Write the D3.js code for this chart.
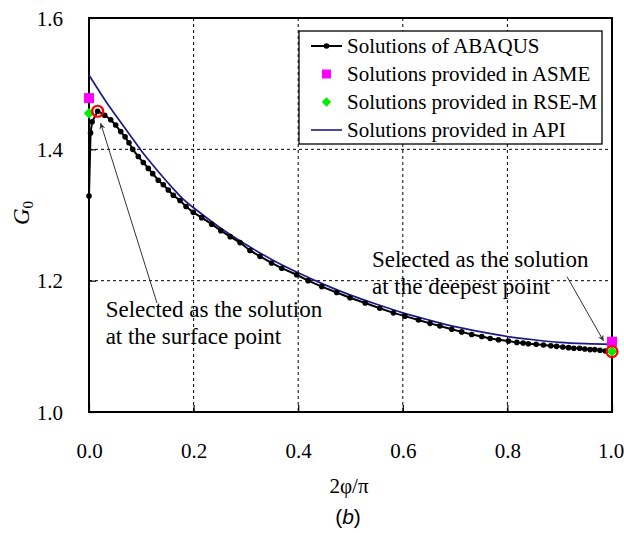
<!DOCTYPE html>
<html><head><meta charset="utf-8">
<script src="https://cdn.jsdelivr.net/npm/d3@7"></script>
<style>body{margin:0;background:#fff}svg{display:block}</style>
</head><body>
<svg id="c" width="624" height="533"></svg>
<script>
// ---- data ----
const abaqusX = [0.000,0.003,0.006,0.0166,0.030,0.0415,0.051,0.0606,0.069,0.0765,0.0836,0.0943,0.1038,0.1134,0.1218,0.1325,0.1421,0.1516,0.1612,0.174,0.1855,0.1994,0.2155,0.2346,0.252,0.270,0.2887,0.3078,0.327,0.349,0.3685,0.397,0.419,0.445,0.4736,0.499,0.528,0.556,0.582,0.604,0.630,0.652,0.671,0.6935,0.7126,0.7317,0.751,0.767,0.783,0.802,0.818,0.830,0.840,0.855,0.869,0.883,0.894,0.906,0.917,0.927,0.938,0.948,0.958,0.967,0.977,0.987,1.000];
const abaqusY = [1.329,1.425,1.442,1.458,1.452,1.445,1.437,1.427,1.419,1.410,1.400,1.389,1.380,1.371,1.363,1.353,1.346,1.338,1.330,1.322,1.313,1.304,1.296,1.286,1.276,1.267,1.258,1.246,1.237,1.227,1.219,1.209,1.200,1.191,1.182,1.174,1.166,1.158,1.151,1.146,1.140,1.135,1.131,1.126,1.122,1.118,1.115,1.112,1.110,1.108,1.106,1.105,1.104,1.103,1.102,1.101,1.100,1.099,1.098,1.097,1.097,1.096,1.095,1.095,1.094,1.093,1.092];
const apiX = [0,0.02,0.04,0.06,0.08,0.10,0.12,0.14,0.16,0.18,0.20,0.25,0.30,0.35,0.40,0.45,0.50,0.55,0.60,0.65,0.70,0.75,0.80,0.85,0.90,0.95,1.00];
const apiY = [1.513,1.488,1.464,1.442,1.420,1.398,1.378,1.359,1.341,1.324,1.311,1.281,1.255,1.232,1.212,1.194,1.178,1.164,1.151,1.140,1.130,1.122,1.115,1.110,1.106,1.104,1.103];
const asmeX = [0, 1];
const asmeY = [1.478, 1.107];
const rsemX = [0, 1];
const rsemY = [1.455, 1.092];
const selectedX = [0.0166, 1.0];
const selectedY = [1.458, 1.092];
const xTicks = [0, 0.2, 0.4, 0.6, 0.8, 1.0];
const yTicks = [1.0, 1.2, 1.4, 1.6];
const legendLabels = ["Solutions of ABAQUS","Solutions provided in ASME","Solutions provided in RSE-M","Solutions provided in API"];
const annotations = [
  {lines:["Selected as the solution","at the surface point"], tx:0.0318, ty:1.1445, from:[0.130,1.166], to:[0.0222,1.440]},
  {lines:["Selected as the solution","at the deepest point"], tx:0.541, ty:1.2215, from:[0.914,1.206], to:[0.984,1.108]}
];

// ---- chart ----
const svg = d3.select("#c");
const L=89, R=612, T=18, B=412;
const x = d3.scaleLinear().domain([0,1]).range([L,R]);
const y = d3.scaleLinear().domain([1,1.6]).range([B,T]);
const serif = "Liberation Serif";

// grid
const g = svg.append("g");
g.selectAll(".vg").data(xTicks.filter(d=>d>0&&d<1)).join("line")
  .attr("x1",d=>x(d)).attr("x2",d=>x(d)).attr("y1",T).attr("y2",B)
  .attr("stroke","#000").attr("stroke-width",1).attr("stroke-dasharray","3,3");
g.selectAll(".hg").data(yTicks.filter(d=>d>1&&d<1.6)).join("line")
  .attr("x1",L).attr("x2",R).attr("y1",d=>y(d)).attr("y2",d=>y(d))
  .attr("stroke","#000").attr("stroke-width",1).attr("stroke-dasharray","3,3");

// axes
const xa = svg.append("g").attr("transform",`translate(0,${B})`)
  .call(d3.axisBottom(x).tickValues(xTicks).tickFormat(d3.format(".1f")).tickSize(-7).tickPadding(31));
const ya = svg.append("g").attr("transform",`translate(${L},0)`)
  .call(d3.axisLeft(y).tickValues(yTicks).tickFormat(d3.format(".1f")).tickSize(-7).tickPadding(26));
[xa,ya].forEach(a=>{
  a.attr("font-family",serif).attr("font-size",21);
  a.select(".domain").remove();
  a.selectAll("line").attr("stroke","#000").attr("stroke-width",1.2);
  a.selectAll("text").style("font-family",serif).attr("font-size",21).attr("fill","#000");
});
ya.selectAll("text").attr("dy","0.34em");
xa.selectAll(".tick").filter(d=>d===1).select("text").attr("dx",-1.5);

// frame
svg.append("rect").attr("x",L).attr("y",T).attr("width",R-L).attr("height",B-T)
  .attr("fill","none").attr("stroke","#000").attr("stroke-width",2);

// axis titles
svg.append("text").attr("x",349).attr("y",493).attr("text-anchor","middle")
  .style("font-family",serif).attr("font-size",21).text("2φ/π");
const yl = svg.append("text").attr("transform","translate(29,213) rotate(-90)").attr("text-anchor","middle")
  .style("font-family",serif).attr("font-size",23);
yl.append("tspan").attr("font-style","italic").text("G");
yl.append("tspan").attr("font-size",15).attr("dy",4).text("0");
const cap = svg.append("text").attr("x",348).attr("y",524).attr("text-anchor","middle")
  .style("font-family","Liberation Sans").attr("font-size",21);
cap.append("tspan").text("(");
cap.append("tspan").attr("font-style","italic").text("b");
cap.append("tspan").text(")");

// legend
const lg = svg.append("g");
lg.append("rect").attr("x",299).attr("y",31).attr("width",303).attr("height",113)
  .attr("fill","#fff").attr("stroke","#000").attr("stroke-width",1.3);
const rowY = [46, 74, 102, 130];
lg.append("line").attr("x1",311).attr("x2",342).attr("y1",rowY[0]).attr("y2",rowY[0]).attr("stroke","#000").attr("stroke-width",2);
lg.append("circle").attr("cx",326.5).attr("cy",rowY[0]).attr("r",2.8).attr("fill","#000");
lg.append("rect").attr("x",322).attr("y",rowY[1]-4.5).attr("width",9).attr("height",9).attr("fill","#ff00ff");
lg.append("path").attr("d",d3.symbol(d3.symbolDiamond2,55)()).attr("transform",`translate(326.5,${rowY[2]})`).attr("fill","#00ee00");
lg.append("line").attr("x1",311).attr("x2",342).attr("y1",rowY[3]).attr("y2",rowY[3]).attr("stroke","#1a1a88").attr("stroke-width",1.6);
lg.selectAll("text.l").data(legendLabels).join("text").attr("class","l")
  .attr("x",347).attr("y",(d,i)=>rowY[i]).attr("dy","0.33em")
  .style("font-family",serif).attr("font-size",21).attr("fill","#000").text(d=>d);

// API line
const apiData = apiX.map((v,i)=>[v,apiY[i]]);
svg.append("path").datum(apiData)
  .attr("d",d3.line().x(d=>x(d[0])).y(d=>y(d[1])).curve(d3.curveMonotoneX))
  .attr("fill","none").attr("stroke","#1a1a88").attr("stroke-width",1.7);

// ABAQUS
const abData = abaqusX.map((v,i)=>[v,abaqusY[i]]);
svg.append("path").datum(abData)
  .attr("d",d3.line().x(d=>x(d[0])).y(d=>y(d[1])))
  .attr("fill","none").attr("stroke","#000").attr("stroke-width",2);
svg.selectAll("circle.ab").data(abData).join("circle").attr("class","ab")
  .attr("cx",d=>x(d[0])).attr("cy",d=>y(d[1])).attr("r",2.8).attr("fill","#000");

// ASME
svg.selectAll("rect.asme").data(asmeX.map((v,i)=>[v,asmeY[i]])).join("rect").attr("class","asme")
  .attr("x",d=>x(d[0])-5).attr("y",d=>y(d[1])-5).attr("width",10).attr("height",10).attr("fill","#ff00ff");
// RSE-M
svg.selectAll("path.rsem").data(rsemX.map((v,i)=>[v,rsemY[i]])).join("path").attr("class","rsem")
  .attr("d",d3.symbol(d3.symbolDiamond2,70)())
  .attr("transform",d=>`translate(${x(d[0])},${y(d[1])})`).attr("fill","#00ee00");
// selected
svg.selectAll("circle.sel").data(selectedX.map((v,i)=>[v,selectedY[i]])).join("circle").attr("class","sel")
  .attr("cx",d=>x(d[0])).attr("cy",d=>y(d[1])).attr("r",5.5).attr("fill","none").attr("stroke","#ff0000").attr("stroke-width",2.2);

// annotations
svg.append("defs").append("marker").attr("id","ah").attr("viewBox","0 0 10 10").attr("refX",10).attr("refY",5)
  .attr("markerWidth",10).attr("markerHeight",6).attr("markerUnits","userSpaceOnUse").attr("orient","auto")
  .append("path").attr("d","M0,0 L10,5 L0,10 L3,5 Z").attr("fill","#333");
annotations.forEach(a=>{
  svg.append("line").attr("x1",x(a.from[0])).attr("y1",y(a.from[1])).attr("x2",x(a.to[0])).attr("y2",y(a.to[1]))
    .attr("stroke","#333").attr("stroke-width",1).attr("marker-end","url(#ah)");
  const t = svg.append("text").style("font-family",serif).attr("font-size",23).attr("fill","#000");
  a.lines.forEach((s,i)=>t.append("tspan").attr("x",x(a.tx)).attr("y",y(a.ty)+i*27).text(s));
});
</script>
</body></html>
